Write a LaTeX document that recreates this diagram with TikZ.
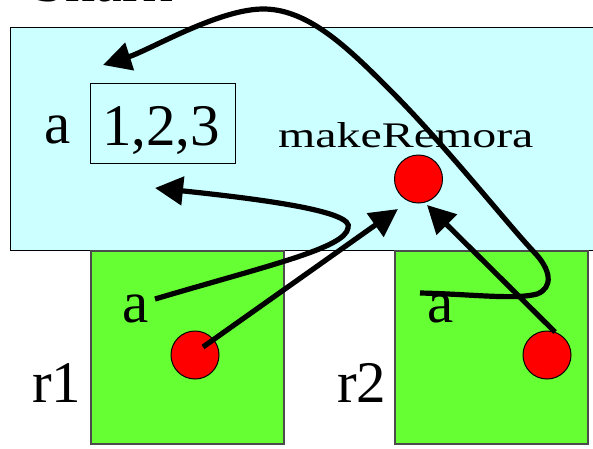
\documentclass[tikz,border=0pt]{standalone}
\usepackage{fontspec}
\setmainfont{Liberation Serif}
\usetikzlibrary{arrows.meta}
\definecolor{sharkcyan}{HTML}{CCFFFF}
\definecolor{remgreen}{HTML}{66FF33}
\begin{document}
\begin{tikzpicture}[x=1pt,y=-1pt,
  txt/.style={anchor=base west, inner sep=0pt, font=\fontsize{59}{59}\selectfont},
  ball/.style={circle, draw=black, line width=1pt, fill=red, minimum size=48pt, inner sep=0pt},
  ptr/.style={line width=5.2pt, -{Triangle[length=28pt,width=28pt]}},
  remora/.style={draw=black!70, line width=1.5pt, fill=remgreen, anchor=north west,
                 minimum width=193pt, minimum height=193pt, inner sep=0pt}]
\useasboundingbox (0,0) rectangle (593,448);
\clip (0,0) rectangle (593,448);
% Shark object
\node[draw=black, line width=1pt, fill=sharkcyan, anchor=north west,
      minimum width=620pt, minimum height=223pt, inner sep=0pt] (shark) at (10,27) {};
\node[txt, font=\fontsize{60}{60}\selectfont] (sharklbl) at (32,1.5) {Shark};
% remora objects
\node[remora] (r1box) at (90,250) {};
\node[remora] (r2box) at (394,250) {};
% value box
\node[draw=black, line width=1pt, anchor=north west, minimum width=145pt,
      minimum height=80pt, inner sep=0pt] (valbox) at (90,83) {};
\node[txt] (val) at (102,145) {1,2,3};
\node[txt] (sa) at (44,143) {a};
\node[anchor=base west, inner sep=0pt, font=\fontsize{36}{36}\selectfont] (mk) at (278,147)
     {\scalebox{1.33}[1]{makeRemora}};
\node[txt] (r1lbl) at (32,402) {r1};
\node[txt] (r2lbl) at (337,402) {r2};
\node[txt] (a1) at (122,322) {a};
\node[txt] (a2) at (427,322) {a};
% methods
\node[ball] (m0) at (418.5,179) {};
\node[ball] (m1) at (195,355) {};
\node[ball] (m2) at (547,355) {};
% pointers
\coordinate (sA) at (155,299);
\coordinate (tA) at (155,188);
\coordinate (sB) at (203,347);
\coordinate (tB) at (398,209);
\coordinate (sC) at (555,332);
\coordinate (tC) at (427,205);
\coordinate (sD) at (420,293);
\coordinate (tD) at (103,65);
\draw[ptr] (sA) .. controls (270,265) and (345,248) .. (348,228)
                .. controls (355,212) and (270,200) .. (tA);
\draw[ptr] (sB) -- (tB);
\draw[ptr] (sC) -- (tC);
\draw[ptr] (sD) .. controls (470,294) and (515,300) .. (537,294)
                .. controls (553,288) and (552,270) .. (533,251)
                .. controls (505,221) and (445,145) .. (390,90)
                .. controls (350,50) and (310,10) .. (265,9)
                .. controls (220,8) and (150,50) .. (tD);
\end{tikzpicture}
\end{document}
